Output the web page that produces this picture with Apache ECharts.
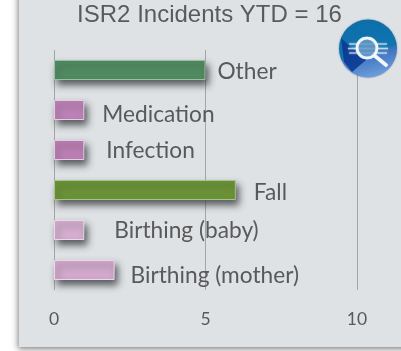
<!DOCTYPE html>
<html><head><meta charset="utf-8">
<style>html,body{margin:0;padding:0;background:#fff}#c{width:401px;height:351px}</style>
<script src="https://cdn.jsdelivr.net/npm/echarts@6/dist/echarts.min.js"></script>
</head><body><div id="c"></div>
<script>
const titleText = 'ISR2 Incidents YTD = 16';
const categories = ['Birthing (mother)', 'Birthing (baby)', 'Fall', 'Infection', 'Medication', 'Other'];
const values = [2, 1, 6, 1, 1, 5];
const tickValues = [0, 5, 10];

const fills = ['#d3a9cd', '#d5aed0', '#6b9336', '#bc7fb5', '#bd82b7', '#508c60'];
const borders = ['#ecd6e8', '#ecd6e8', '#a9c38b', '#e6cce2', '#e6cce2', '#9dbfa6'];
const labelGaps = [16, 30, 18, 22, 18, 12];
const labelShifts = [6, 1, 3, 1, 5, 2];

const chart = echarts.init(document.getElementById('c'), null, {renderer: 'canvas'});
chart.setOption({
  animation: false,
  backgroundColor: '#ffffff',
  title: {
    text: titleText, left: 204.5, top: -2, textAlign: 'center',
    textStyle: {fontFamily: 'Liberation Sans', fontWeight: 'normal', fontSize: 24, color: '#5a5a5a'}
  },
  grid: {left: 54, right: 44, top: 50, height: 240},
  xAxis: {
    type: 'value', min: tickValues[0], max: tickValues[2], interval: tickValues[1],
    axisLine: {show: false}, axisTick: {show: false},
    splitLine: {show: true, lineStyle: {color: '#a3a6a8', width: 1}},
    axisLabel: {margin: 20, fontFamily: 'Lato', fontSize: 17.5, color: '#595959'}
  },
  yAxis: {
    type: 'category', data: categories,
    axisLine: {show: false}, axisTick: {show: false}, axisLabel: {show: false}, splitLine: {show: false}
  },
  series: [{
    type: 'bar', barWidth: 20,
    data: values.map((v, i) => ({
      value: v,
      itemStyle: {
        color: fills[i], borderColor: borders[i], borderWidth: 1,
        shadowColor: 'rgba(50,55,55,0.8)', shadowBlur: 7, shadowOffsetX: 3, shadowOffsetY: 5
      },
      label: {
        show: true, position: 'right', distance: labelGaps[i], offset: [0, labelShifts[i]],
        formatter: categories[i], fontFamily: 'Lato', fontSize: 22.7, color: '#595959'
      }
    }))
  }],
  graphic: {elements: [
    {type: 'rect', z: -10, silent: true, shape: {x: 19, y: -20, width: 420, height: 367},
     style: {fill: '#dfe2e5', shadowColor: 'rgba(60,60,60,0.65)', shadowBlur: 6, shadowOffsetX: -1, shadowOffsetY: 2}},
    {type: 'circle', z: 50, silent: true, shape: {cx: 368, cy: 48.5, r: 29},
     style: {fill: {type: 'linear', x: 0.35, y: 0, x2: 0.6, y2: 1, colorStops: [
       {offset: 0, color: '#0d6fa8'}, {offset: 0.55, color: '#1173b0'}, {offset: 0.62, color: '#3f74c0'}, {offset: 1, color: '#6f9fdc'}]},
       shadowColor: 'rgba(30,60,110,0.5)', shadowBlur: 2}},
    {type: 'polygon', z: 51, silent: true, shape: {points: [[341, 38], [352, 48], [366, 60], [352, 72], [344, 62]]},
     style: {fill: '#0b3a94', opacity: 0.9}},
    {type: 'line', z: 52, silent: true, shape: {x1: 349, y1: 44, x2: 387, y2: 44}, style: {stroke: 'rgba(255,255,255,0.5)', lineWidth: 1.5, shadowColor: '#fff', shadowBlur: 2}},
    {type: 'line', z: 52, silent: true, shape: {x1: 348, y1: 48.5, x2: 388, y2: 48.5}, style: {stroke: 'rgba(255,255,255,0.6)', lineWidth: 1.5, shadowColor: '#fff', shadowBlur: 2}},
    {type: 'line', z: 52, silent: true, shape: {x1: 349, y1: 53, x2: 387, y2: 53}, style: {stroke: 'rgba(255,255,255,0.5)', lineWidth: 1.5, shadowColor: '#fff', shadowBlur: 2}},
    {type: 'circle', z: 53, silent: true, shape: {cx: 367, cy: 48, r: 10}, style: {fill: 'rgba(40,110,175,0.6)', stroke: 'rgba(240,245,250,0.95)', lineWidth: 2.5, shadowColor: '#fff', shadowBlur: 1}},
    {type: 'line', z: 53, silent: true, shape: {x1: 375, y1: 56, x2: 386, y2: 65}, style: {stroke: '#f4f7fb', lineWidth: 3.5, lineCap: 'round', shadowColor: '#fff', shadowBlur: 1}}
  ]}
});
</script></body></html>
